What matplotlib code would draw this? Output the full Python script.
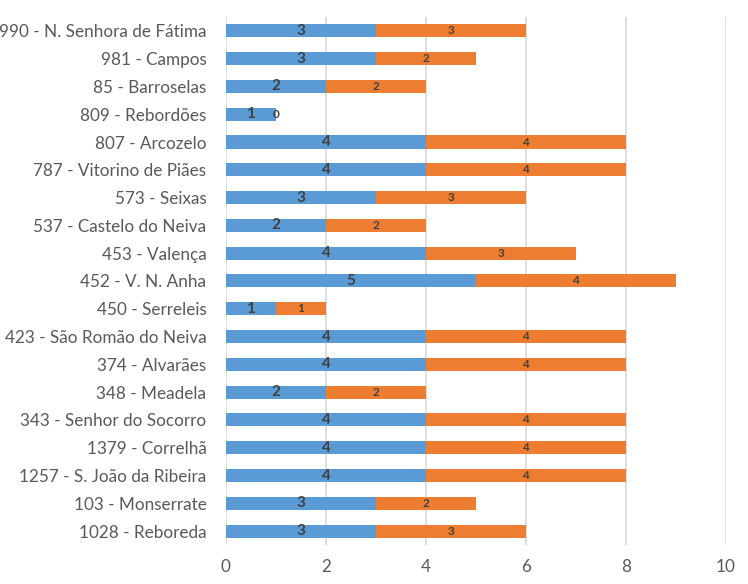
import numpy as np
from matplotlib import pyplot as plt

# rows listed top to bottom as they appear
labels = ['990 - N. Senhora de Fátima', '981 - Campos', '85 - Barroselas',
          '809 - Rebordões', '807 - Arcozelo', '787 - Vitorino de Piães',
          '573 - Seixas', '537 - Castelo do Neiva', '453 - Valença',
          '452 - V. N. Anha', '450 - Serreleis', '423 - São Romão do Neiva',
          '374 - Alvarães', '348 - Meadela', '343 - Senhor do Socorro',
          '1379 - Correlhã', '1257 - S. João da Ribeira', '103 - Monserrate',
          '1028 - Reboreda']
blue_vals = [3, 3, 2, 1, 4, 4, 3, 2, 4, 5, 1, 4, 4, 2, 4, 4, 4, 3, 3]
orange_vals = [3, 2, 2, 0, 4, 4, 3, 2, 3, 4, 1, 4, 4, 2, 4, 4, 4, 2, 3]
xticks = [0, 2, 4, 6, 8, 10]

plt.rcParams['font.family'] = ['Lato', 'DejaVu Sans']

fig = plt.figure(figsize=(7.48, 5.84), dpi=100)
ax = fig.add_axes([0.302, 0.0668, 0.6684, 0.9042])

n = len(labels)
y = np.arange(n)[::-1]
blue = np.array(blue_vals)
orange = np.array(orange_vals)

ax.barh(y, blue, height=0.47, color='#5B9BD5', zorder=2)
ax.barh(y, orange, left=blue, height=0.47, color='#ED7D31', zorder=2)

for yi, b, o in zip(y, blue, orange):
    ax.text(b / 2, yi, str(b), ha='center', va='center', fontsize=11,
            fontweight='bold', color='#404040', zorder=3)
    ax.text(b + o / 2, yi, str(o), ha='center', va='center', fontsize=8.5,
            fontweight='bold', color='#404040', zorder=3)

ax.set_xlim(0, 10)
ax.set_ylim(-0.5, n - 0.5)
ax.set_xticks(xticks)
ax.set_yticks(y)
ax.set_yticklabels(labels)
ax.xaxis.grid(True, color='#D9D9D9', linewidth=1.2, zorder=0)
ax.set_axisbelow(True)
for s in ax.spines.values():
    s.set_visible(False)
ax.tick_params(axis='both', length=0, labelsize=12.3, colors='#595959')
ax.tick_params(axis='x', pad=10)
ax.tick_params(axis='y', pad=14)

plt.savefig('out.png', dpi=100)
